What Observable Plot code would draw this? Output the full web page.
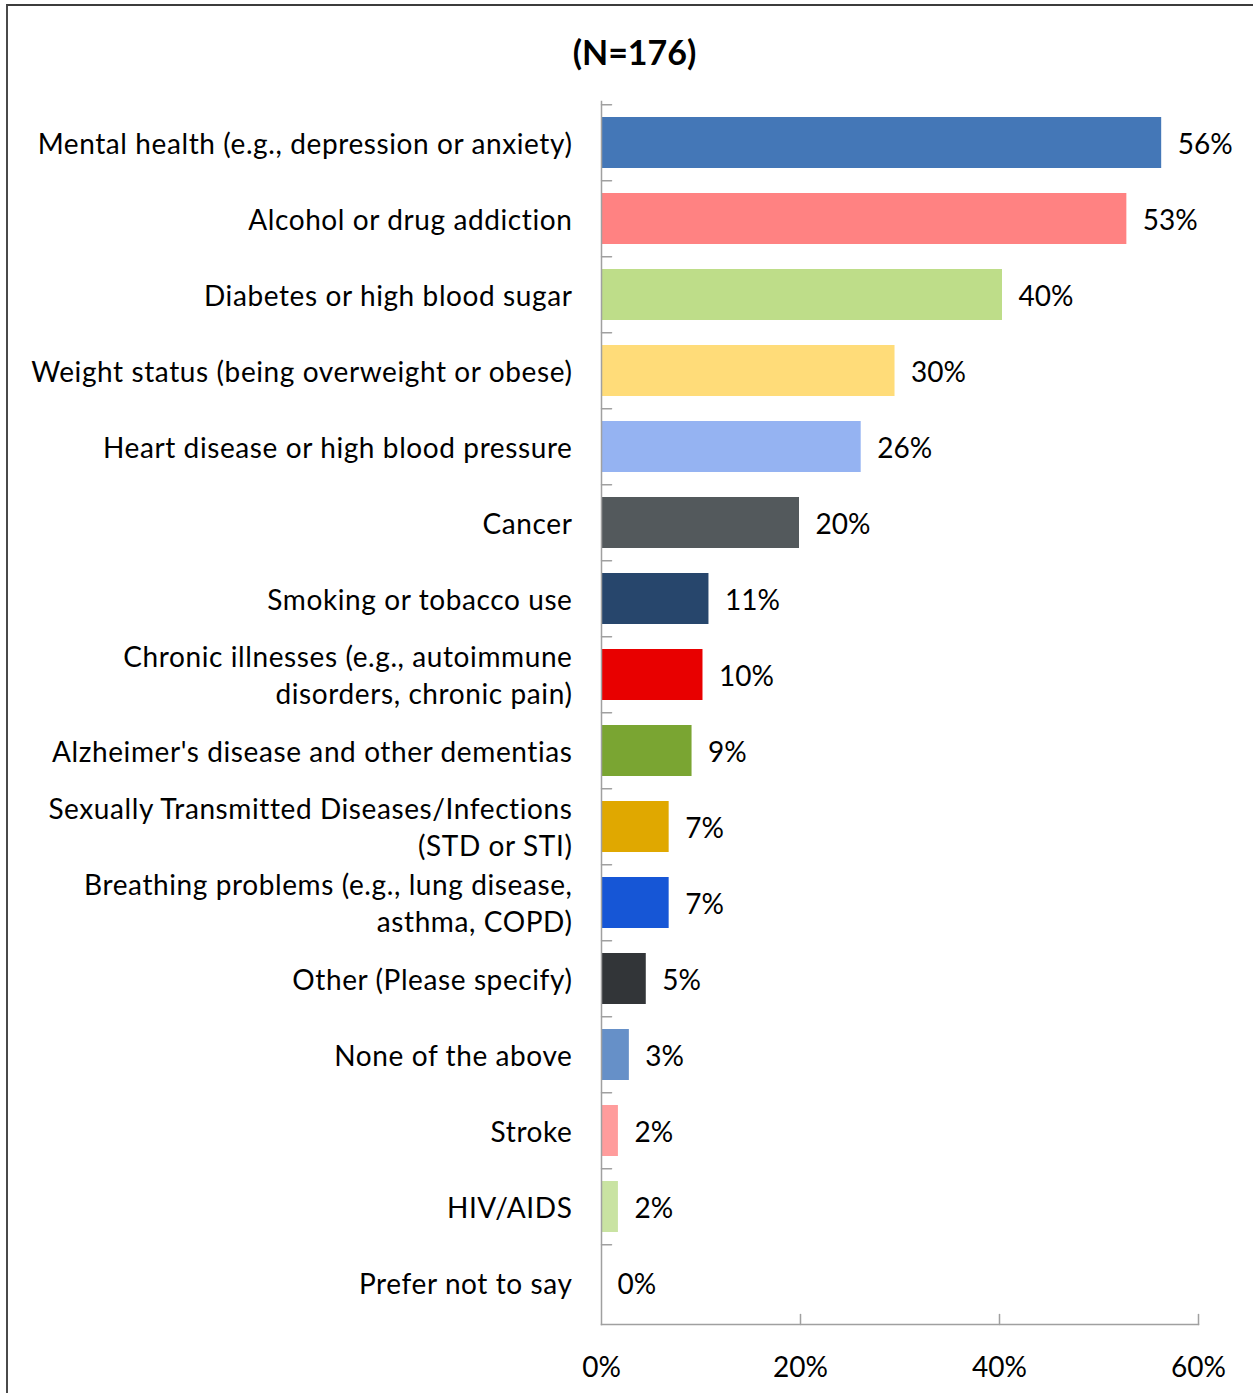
<!DOCTYPE html>
<html>
<head>
<meta charset="utf-8">
<script src="https://cdn.jsdelivr.net/npm/d3@7"></script>
<script src="https://cdn.jsdelivr.net/npm/@observablehq/plot@0.6"></script>
<style>
  html, body { margin: 0; padding: 0; background: #fff; }
  body { width: 1253px; height: 1393px; overflow: hidden; position: relative; font-family: Lato, "Open Sans", sans-serif; }
  #frame { position: absolute; left: 6px; top: 4px; width: 1300px; height: 1450px; border-top: 2px solid #3c3c3c; border-left: 2px solid #4a4a4a; box-sizing: border-box; pointer-events: none; }
  #title { height: 46px; padding-top: 34px; line-height: 36px; text-align: center; font-weight: bold; font-size: 34px; color: #000; padding-left: 16px; }
  #chart { position: relative; }
  g[aria-label="y-axis tick label"] text { letter-spacing: 0.6px; }
</style>
</head>
<body>
<div id="frame"></div>
<div id="title">(N=176)</div>
<div id="chart"></div>
<script>
const categories = [
  "Mental health (e.g., depression or anxiety)",
  "Alcohol or drug addiction",
  "Diabetes or high blood sugar",
  "Weight status (being overweight or obese)",
  "Heart disease or high blood pressure",
  "Cancer",
  "Smoking or tobacco use",
  "Chronic illnesses (e.g., autoimmune\ndisorders, chronic pain)",
  "Alzheimer's disease and other dementias",
  "Sexually Transmitted Diseases/Infections\n(STD or STI)",
  "Breathing problems (e.g., lung disease,\nasthma, COPD)",
  "Other (Please specify)",
  "None of the above",
  "Stroke",
  "HIV/AIDS",
  "Prefer not to say"
];
const values = [56.3, 52.8, 40.3, 29.5, 26.1, 19.9, 10.8, 10.2, 9.1, 6.8, 6.8, 4.5, 2.8, 1.7, 1.7, 0];
const colors = [
  "#4477B7", "#FF8282", "#BEDD89", "#FFDC79", "#95B3F2", "#53595C", "#27466C", "#E80000",
  "#7AA532", "#E0A800", "#1656D6", "#323538", "#6690C8", "#FF9C9C", "#C9E3A2", "#FFFFFF"
];
const xTicks = [0, 20, 40, 60];

const rows = categories.map((c, i) => ({category: c, value: values[i], color: colors[i]}));

const width = 1253, height = 1313;
const marginTop = 21, marginBottom = 69, marginLeft = 601, marginRight = 55;
const step = (height - marginTop - marginBottom) / categories.length;
const lineShape = {draw(context, l) { context.moveTo(0, 0); context.lineTo(0, -l); }};
const axisGray = "#a0a0a0";

const chart = Plot.plot({
  width, height, marginTop, marginBottom, marginLeft, marginRight,
  style: {fontFamily: "Lato, 'Open Sans', sans-serif", fontSize: "28px", color: "#000", background: "transparent"},
  x: {domain: [0, 60], ticks: xTicks, label: null},
  y: {domain: categories, paddingInner: 0.33, paddingOuter: 0.165, label: null},
  color: {type: "identity"},
  marks: [
    Plot.barX(rows, {x: "value", y: "category", fill: "color"}),
    Plot.frame({anchor: "left", stroke: axisGray, strokeWidth: 1.5}),
    Plot.frame({anchor: "bottom", stroke: axisGray, strokeWidth: 1.5}),
    Plot.vector(categories, {x: 0, y: d => d, rotate: 90, length: 10, anchor: "start", shape: lineShape, stroke: axisGray, strokeWidth: 1.5, dy: -step / 2}),
    Plot.vector(xTicks.slice(1), {x: d => d, frameAnchor: "bottom", rotate: 0, length: 10, anchor: "start", shape: lineShape, stroke: axisGray, strokeWidth: 1.5}),
    Plot.axisY({tickSize: 0, tickPadding: 29, fontSize: 28, lineHeight: 1.32, fill: "#000", dy: -1}),
    Plot.axisX({ticks: xTicks, tickSize: 0, tickPadding: 33, fontSize: 28, tickFormat: d => d + "%", fill: "#000"}),
    Plot.text(rows, {x: "value", y: "category", text: d => Math.round(d.value) + "%", textAnchor: "start", dx: 16, dy: 2, fontSize: 28, fill: "#000"})
  ]
});
document.getElementById("chart").appendChild(chart);
</script>
</body>
</html>
